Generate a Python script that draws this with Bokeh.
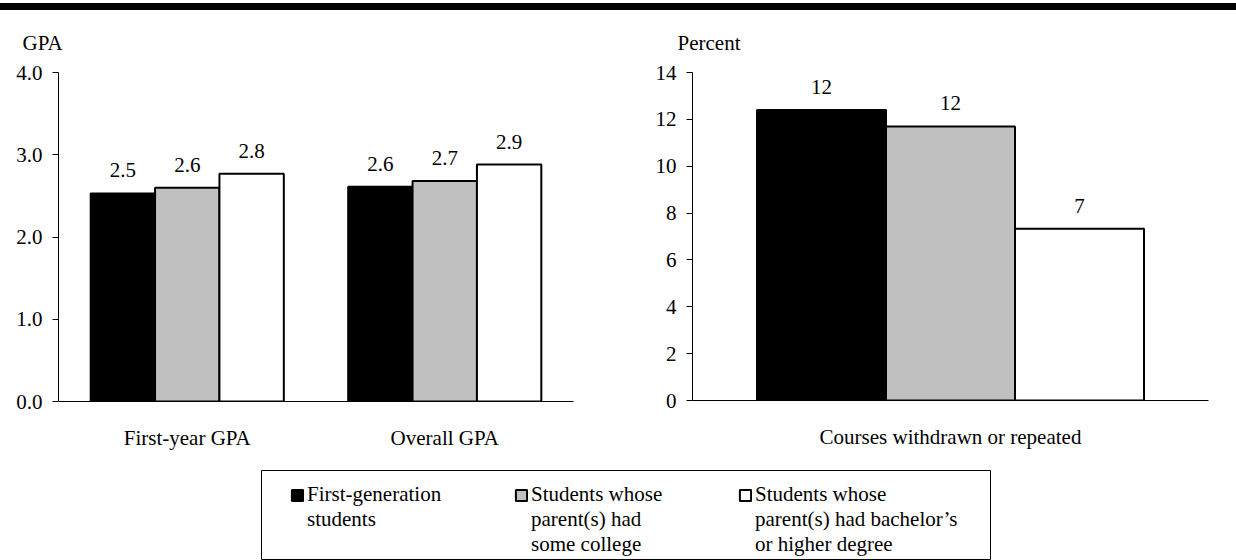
from bokeh.plotting import figure
from bokeh.models import (FactorRange, Range1d, ColumnDataSource, Legend, LegendItem,
                          SingleIntervalTicker, NumeralTickFormatter, Div)
from bokeh.core.properties import value
from bokeh.transform import dodge
from bokeh.layouts import column, row
from bokeh.embed import file_html
from bokeh.resources import INLINE

FONT = "'Liberation Serif', 'Times New Roman', serif"
FS = "21px"

# ---- data ----
gpa_categories = ["First-year GPA", "Overall GPA"]
gpa_first_gen = [2.53, 2.61]
gpa_some_college = [2.60, 2.68]
gpa_bachelors = [2.77, 2.88]

course_categories = ["Courses withdrawn or repeated"]
course_first_gen = [12.4]
course_some_college = [11.7]
course_bachelors = [7.33]

# legend texts: first line (next to the swatch) and the lines below it
series_first_lines = ["First-generation", "Students whose", "Students whose"]
series_more_lines = ["students\n ", "parent(s) had\nsome college",
                     "parent(s) had bachelor\u2019s\nor higher degree"]
series_colors = ["#000000", "#c0c0c0", "#ffffff"]
offsets = [-0.25, 0.0, 0.25]


def style_axes(p, interval, fmt):
    p.xgrid.grid_line_color = None
    p.ygrid.grid_line_color = None
    p.outline_line_color = None
    for ax in (p.xaxis, p.yaxis):
        ax.axis_line_color = "black"
        ax.axis_line_width = 1
        ax.major_label_text_font = FONT
        ax.major_label_text_font_size = FS
        ax.major_label_text_color = "black"
        ax.minor_tick_line_color = None
    p.xaxis.major_tick_line_color = None
    p.xaxis.major_label_standoff = 18
    p.yaxis.ticker = SingleIntervalTicker(interval=interval)
    p.yaxis.formatter = NumeralTickFormatter(format=fmt)
    p.yaxis.major_tick_in = 0
    p.yaxis.major_tick_out = 6
    p.yaxis.major_tick_line_color = "black"
    p.yaxis.major_label_standoff = 10
    p.title.text_font = FONT
    p.title.text_font_size = FS
    p.title.text_font_style = "normal"
    p.title.text_color = "black"
    p.title.align = "left"


def make_chart(categories, series, y_end, interval, fmt, label_fmt, title, title_offset,
               mb_left, mb_right, mb_top, frame_w, frame_h, mb_bottom):
    p = figure(x_range=FactorRange(*categories), y_range=Range1d(0, y_end),
               frame_width=frame_w, frame_height=frame_h,
               min_border_left=mb_left, min_border_right=mb_right,
               min_border_top=mb_top, min_border_bottom=mb_bottom,
               output_backend="svg", toolbar_location=None, title=title)
    data = {"cat": categories}
    for i, s in enumerate(series):
        data[f"s{i}"] = s
        data[f"l{i}"] = [label_fmt.format(v) for v in s]
    src = ColumnDataSource(data)
    for i in range(3):
        p.vbar(x=dodge("cat", offsets[i], range=p.x_range), top=f"s{i}", width=0.25,
               source=src, fill_color=series_colors[i], line_color="black", line_width=2)
        p.text(x=dodge("cat", offsets[i], range=p.x_range), y=f"s{i}", text=f"l{i}",
               source=src, text_align="center", text_baseline="alphabetic", y_offset=-23,
               text_font=value(FONT), text_font_size=FS, text_color="black")
    style_axes(p, interval, fmt)
    p.title.offset = title_offset
    p.title.standoff = 36
    return p


p1 = make_chart(gpa_categories, [gpa_first_gen, gpa_some_college, gpa_bachelors],
                4.0, 1, "0.0", "{:.1f}", "GPA", -36,
                58, 27, 59, 515, 329, 62)
p2 = make_chart(course_categories, [course_first_gen, course_some_college, course_bachelors],
                14, 2, "0", "{:.0f}", "Percent", -15,
                92, 28, 61, 516, 328, 61)

# top rule
rule = Div(text="", width=1236, height=7, margin=(3, 0, 0, 0),
           styles={"background-color": "#000000"})

# legend panel (swatch renderers are hidden; only the legend draws them)
lg = figure(x_range=FactorRange(*gpa_categories), y_range=Range1d(-11, -10),
            frame_width=729, frame_height=89,
            min_border_left=261, min_border_right=246, min_border_top=7, min_border_bottom=2,
            x_axis_location=None, y_axis_location=None,
            output_backend="svg", toolbar_location=None)
lg.grid.grid_line_color = None
lg.outline_line_color = "black"
lg.outline_line_width = 1
lsrc = ColumnDataSource({"cat": gpa_categories, "s0": gpa_first_gen,
                         "s1": gpa_some_college, "s2": gpa_bachelors})
first_items, more_items = [], []
for i in range(3):
    r = lg.vbar(x=dodge("cat", offsets[i], range=lg.x_range), top=f"s{i}", width=0.25,
                source=lsrc, fill_color=series_colors[i], line_color="black", line_width=2,
                visible=False)
    first_items.append(LegendItem(label=series_first_lines[i], renderers=[r]))
    more_items.append(LegendItem(label=series_more_lines[i], renderers=[]))
legend = Legend(items=first_items + more_items, orientation="horizontal", ncols=3,
                location=(29, 2), padding=0, margin=0, spacing=0, label_width=207,
                glyph_width=14, glyph_height=14, label_standoff=3,
                border_line_alpha=0, background_fill_alpha=0,
                item_background_fill_alpha=0, click_policy="none",
                label_text_font=FONT, label_text_font_size=FS,
                label_text_line_height=1.15, label_text_color="black")
lg.add_layout(legend)

layout = column(rule, row(p1, p2), lg)
open("out.html", "w").write(file_html(layout, INLINE))
